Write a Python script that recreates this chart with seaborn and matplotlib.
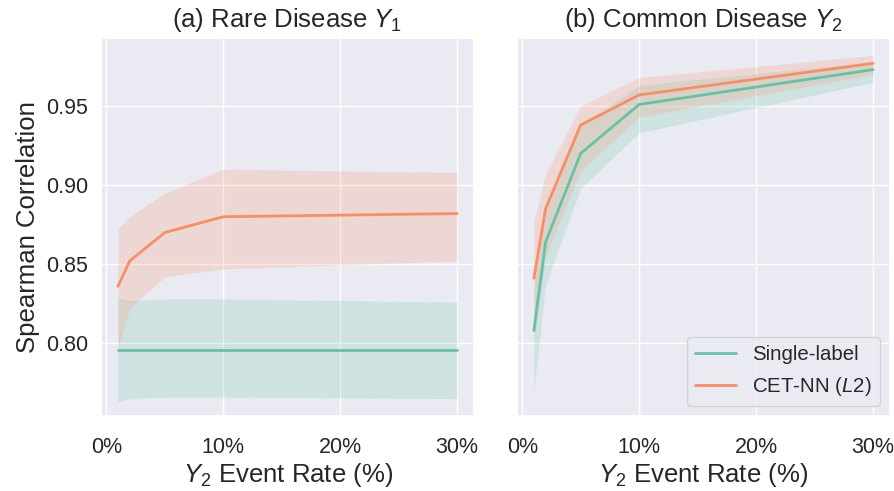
import numpy as np
import pandas as pd
import matplotlib
matplotlib.use("Agg")
import matplotlib.pyplot as plt
import seaborn as sns
from matplotlib.ticker import FuncFormatter

# ---- data ----
rates = [1, 2, 5, 10, 30]
methods = ["Single-label", "CET-NN ($L2$)"]

# (a) Rare disease Y1
rare_single_mean = [0.796, 0.796, 0.796, 0.796, 0.796]
rare_single_lo = [0.763, 0.765, 0.766, 0.766, 0.765]
rare_single_hi = [0.829, 0.827, 0.828, 0.828, 0.826]
rare_cet_mean = [0.836, 0.852, 0.870, 0.880, 0.882]
rare_cet_lo = [0.797, 0.822, 0.842, 0.847, 0.852]
rare_cet_hi = [0.872, 0.880, 0.895, 0.910, 0.908]

# (b) Common disease Y2
common_single_mean = [0.808, 0.864, 0.920, 0.951, 0.973]
common_single_lo = [0.770, 0.837, 0.898, 0.933, 0.965]
common_single_hi = [0.835, 0.883, 0.938, 0.963, 0.978]
common_cet_mean = [0.841, 0.885, 0.938, 0.957, 0.977]
common_cet_lo = [0.802, 0.855, 0.909, 0.943, 0.970]
common_cet_hi = [0.877, 0.907, 0.950, 0.968, 0.982]

titles = ["(a) Rare Disease $Y_1$", "(b) Common Disease $Y_2$"]
xlabel = "$Y_2$ Event Rate (%)"
ylabel = "Spearman Correlation"
xticks = [0, 10, 20, 30]
yticks = [0.80, 0.85, 0.90, 0.95]

panels = [
    (rare_single_mean, rare_single_lo, rare_single_hi, rare_cet_mean, rare_cet_lo, rare_cet_hi),
    (common_single_mean, common_single_lo, common_single_hi, common_cet_mean, common_cet_lo, common_cet_hi),
]

sns.set_theme(style="darkgrid")
plt.rcParams["font.family"] = ["Liberation Sans", "DejaVu Sans"]
plt.rcParams["mathtext.fontset"] = "custom"
plt.rcParams["mathtext.rm"] = "Liberation Sans"
plt.rcParams["mathtext.it"] = "Liberation Sans:italic"

palette = sns.color_palette("Set2", 2)

fig, axes = plt.subplots(1, 2, figsize=(8.94, 4.91), dpi=100, sharey=True)
fig.subplots_adjust(left=0.113, right=0.9955, top=0.9226, bottom=0.1527, wspace=0.115)

for i, (ax, p) in enumerate(zip(axes, panels)):
    s_m, s_lo, s_hi, c_m, c_lo, c_hi = p
    df = pd.DataFrame({
        "rate": rates * 2,
        "value": list(s_m) + list(c_m),
        "method": [methods[0]] * len(rates) + [methods[1]] * len(rates),
    })
    sns.lineplot(data=df, x="rate", y="value", hue="method", hue_order=methods,
                 palette=palette, ax=ax, linewidth=2, legend=(i == 1))
    ax.fill_between(rates, s_lo, s_hi, color=palette[0], alpha=0.2, linewidth=0)
    ax.fill_between(rates, c_lo, c_hi, color=palette[1], alpha=0.2, linewidth=0)
    ax.set_title(titles[i], fontsize=18.5, pad=8)
    ax.set_xlabel(xlabel, fontsize=18.5, labelpad=2)
    ax.set_xticks(xticks)
    ax.xaxis.set_major_formatter(FuncFormatter(lambda v, pos: f"{int(v)}%"))
    ax.tick_params(labelsize=15.5)
    ax.tick_params(axis="x", pad=9)
    ax.set_ylim(0.754, 0.993)
    ax.set_yticks(yticks)

axes[0].set_ylabel(ylabel, fontsize=18.5)
axes[1].set_ylabel("")
leg = axes[1].legend(loc="lower right", fontsize=14.7, title=None)
for line in leg.get_lines():
    line.set_linewidth(2)

fig.savefig("out.png", dpi=100)
